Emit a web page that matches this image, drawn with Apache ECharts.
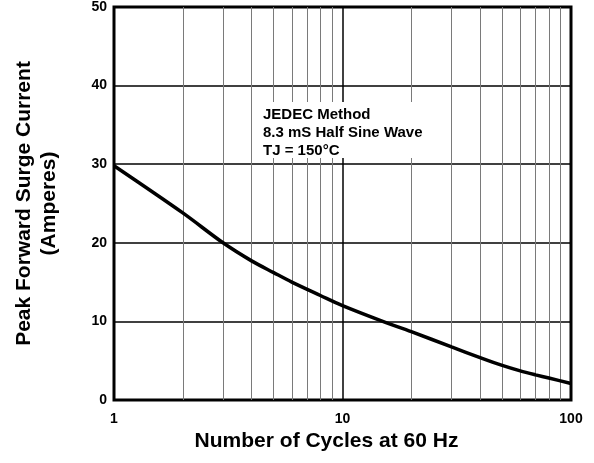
<!DOCTYPE html>
<html>
<head>
<meta charset="utf-8">
<script src="https://cdn.jsdelivr.net/npm/echarts@6/dist/echarts.min.js"></script>
<style>
html,body{margin:0;padding:0;background:#fff;}
#chart{width:594px;height:463px;}
</style>
</head>
<body>
<div id="chart"></div>
<script>
// Data
var cycles = [1, 2, 3, 4, 5, 6, 8, 10, 15, 20, 30, 40, 50, 60, 70, 80, 100];
var surgeCurrent = [29.8, 23.8, 20.0, 17.7, 16.2, 15.0, 13.3, 12.0, 10.0, 8.7, 6.75, 5.4, 4.4, 3.7, 3.2, 2.8, 2.1];
var minorGridX = [2, 3, 4, 5, 6, 7, 8, 9, 20, 30, 40, 50, 60, 70, 80, 90];
var yTicks = [0, 10, 20, 30, 40, 50];
var annotationLines = ['JEDEC Method', '8.3 mS Half Sine Wave', 'TJ = 150°C'];

var FONT = '"Liberation Sans", Arial, Helvetica, sans-serif';
var chart = echarts.init(document.getElementById('chart'), null, {renderer: 'canvas'});

var seriesData = cycles.map(function (c, i) { return [c, surgeCurrent[i]]; });

var option = {
  animation: false,
  backgroundColor: '#ffffff',
  grid: {
    left: 114, right: 23, top: 5, bottom: 63,
    show: true, borderColor: '#000', borderWidth: 3, backgroundColor: 'transparent'
  },
  xAxis: {
    type: 'log', logBase: 10, min: 1, max: 100,
    name: 'Number of Cycles at 60 Hz',
    nameLocation: 'middle', nameGap: 27,
    nameTextStyle: {fontFamily: FONT, fontWeight: 'bold', fontSize: 21, color: '#000', padding: [0, 32, 0, 0], verticalAlign: 'top'},
    axisLine: {show: false},
    axisTick: {show: false},
    axisLabel: {fontFamily: FONT, fontWeight: 'bold', fontSize: 14, color: '#000', margin: 12},
    splitLine: {show: true, lineStyle: {color: '#000', width: 1.5}}
  },
  yAxis: {
    type: 'value', min: 0, max: 50, interval: 10,
    name: 'Peak Forward Surge Current\n(Amperes)',
    nameLocation: 'middle', nameGap: 52, nameRotate: 90,
    nameTextStyle: {fontFamily: FONT, fontWeight: 'bold', fontSize: 21, color: '#000', lineHeight: 25},
    axisLine: {show: false},
    axisTick: {show: false},
    axisLabel: {fontFamily: FONT, fontWeight: 'bold', fontSize: 14, color: '#000', margin: 7,
      formatter: function (v) { return yTicks.indexOf(v) >= 0 ? String(v) : ''; }},
    splitLine: {show: true, lineStyle: {color: '#000', width: 1.5}}
  },
  series: [{
    type: 'line',
    data: seriesData,
    smooth: 0.3,
    showSymbol: false,
    symbol: 'none',
    lineStyle: {color: '#000', width: 3.5},
    z: 5,
    markLine: {
      silent: true,
      symbol: ['none', 'none'],
      label: {show: false},
      animation: false,
      lineStyle: {color: '#7a7a7a', width: 1, type: 'solid'},
      data: minorGridX.map(function (v) { return {xAxis: v}; }),
      z: 1
    }
  }],
  graphic: [
    {type: 'rect', z: 100, shape: {x: 256, y: 102, width: 182, height: 56}, style: {fill: '#fff'}},
    {type: 'text', z: 101, left: 263, top: 106,
      style: {text: annotationLines.join('\n'), font: 'bold 15px ' + FONT, fill: '#000', lineHeight: 18}}
  ]
};
chart.setOption(option);
</script>
</body>
</html>
